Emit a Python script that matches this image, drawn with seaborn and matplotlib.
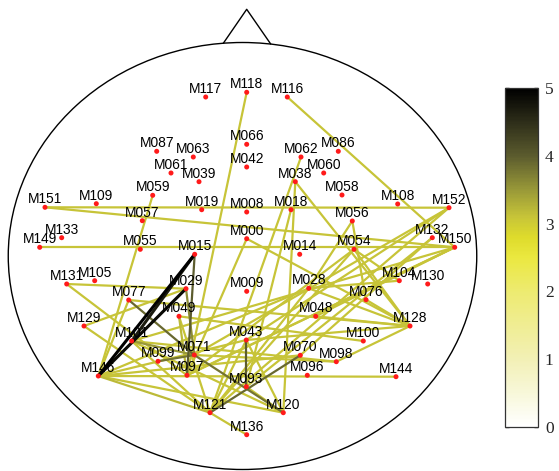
import numpy as np
import pandas as pd
import matplotlib
matplotlib.use("Agg")
import matplotlib.pyplot as plt
import seaborn as sns
from matplotlib.collections import LineCollection
from matplotlib.colors import LinearSegmentedColormap, Normalize
from matplotlib.cm import ScalarMappable
from matplotlib.patches import Ellipse

# ---------------- data ----------------
sensor_names = ["M117", "M118", "M116", "M066", "M042", "M087", "M063", "M061", "M039",
                "M062", "M086", "M060", "M038", "M059", "M058", "M109", "M108", "M151",
                "M152", "M019", "M008", "M018", "M057", "M056", "M133", "M132", "M149",
                "M150", "M055", "M054", "M000", "M015", "M014", "M131", "M130", "M105",
                "M104", "M029", "M028", "M009", "M077", "M076", "M129", "M128", "M049",
                "M048", "M101", "M100", "M043", "M071", "M070", "M099", "M098", "M146",
                "M144", "M097", "M096", "M093", "M121", "M120", "M136"]
sensor_x = [205.7, 246.7, 287.3, 246.7, 246.7, 156.7, 193.3, 171.0, 199.0,
            301.0, 338.3, 323.7, 295.3, 152.7, 342.0, 96.3, 397.7, 45.0,
            449.0, 201.7, 246.7, 291.0, 142.3, 352.3, 61.7, 432.3, 39.7,
            454.7, 140.3, 354.0, 246.7, 194.7, 299.7, 66.7, 427.7, 94.7,
            399.3, 186.0, 308.7, 246.7, 128.7, 366.0, 84.0, 410.0, 179.0,
            315.7, 131.7, 363.3, 246.3, 194.3, 300.3, 158.0, 336.3, 98.3,
            396.0, 187.0, 307.3, 246.3, 210.0, 283.3, 246.7]
sensor_y = [97.0, 92.3, 97.0, 144.3, 167.0, 151.3, 157.0, 173.0, 181.7,
            157.0, 151.3, 173.0, 181.7, 195.3, 195.0, 203.7, 204.0, 207.3,
            207.7, 209.7, 212.0, 209.7, 220.7, 221.0, 237.7, 237.7, 247.3,
            247.3, 249.3, 249.3, 238.7, 254.3, 254.3, 284.0, 284.0, 280.7,
            280.7, 288.7, 288.3, 291.3, 300.0, 299.7, 326.0, 326.0, 316.3,
            316.3, 341.0, 341.0, 340.0, 355.0, 355.3, 361.3, 361.7, 376.0,
            376.7, 375.3, 375.3, 386.7, 412.7, 412.7, 434.7]

edge_from = ["M146", "M146", "M015",
             "M015", "M077", "M099", "M043", "M121", "M071", "M029", "M101",
             "M151", "M151", "M149", "M116", "M118", "M059", "M062", "M038", "M038",
             "M018", "M146", "M146", "M146", "M146", "M146", "M146", "M146",
             "M131", "M129", "M129", "M077", "M049", "M049", "M049", "M101",
             "M101", "M101", "M071", "M097", "M097", "M043", "M043", "M043",
             "M000", "M000", "M028", "M028", "M028", "M048", "M056", "M056",
             "M054", "M054", "M076", "M132", "M132", "M152", "M152", "M150",
             "M150", "M098", "M121", "M120", "M071", "M131", "M054", "M150"]
edge_to = ["M015", "M029", "M101",
           "M097", "M071", "M071", "M093", "M070", "M120", "M071", "M071",
           "M152", "M150", "M150", "M150", "M097", "M146", "M121", "M120", "M128",
           "M093", "M144", "M121", "M120", "M077", "M043", "M070", "M028",
           "M097", "M029", "M121", "M128", "M097", "M121", "M100", "M098",
           "M120", "M121", "M152", "M150", "M054", "M121", "M120", "M128",
           "M128", "M097", "M128", "M121", "M104", "M128", "M028", "M076",
           "M104", "M121", "M128", "M070", "M093", "M121", "M043", "M048",
           "M101", "M128", "M136", "M093", "M098", "M029", "M128", "M097"]
edge_value = [5.0, 4.9, 4.7,
              4.0, 3.9, 3.8, 4.0, 3.9, 3.8, 3.6, 3.5,
              3.1, 3.1, 3.1, 3.1, 3.1, 3.1, 3.1, 3.1, 3.1,
              3.1, 3.1, 3.2, 3.1, 3.1, 3.1, 3.1, 3.1,
              3.1, 3.1, 3.1, 3.1, 3.2, 3.1, 3.1, 3.1,
              3.1, 3.1, 3.1, 3.1, 3.1, 3.1, 3.1, 3.1,
              3.1, 3.1, 3.1, 3.1, 3.1, 3.1, 3.1, 3.1,
              3.1, 3.1, 3.1, 3.1, 3.1, 3.1, 3.1, 3.1,
              3.1, 3.1, 3.1, 3.1, 3.1, 3.1, 3.1, 3.1]

cbar_ticks = [0, 1, 2, 3, 4, 5]
cbar_labels = ["0", "1", "2", "3", "4", "5"]

# ---------------- styling ----------------
sns.set_style("white")
plt.rcParams["font.family"] = ["Liberation Sans", "DejaVu Sans"]

sensors = pd.DataFrame({"name": sensor_names, "x": sensor_x, "y": sensor_y})
pos = {n: (x, y) for n, x, y in zip(sensor_names, sensor_x, sensor_y)}

cmap = LinearSegmentedColormap.from_list("wyk", [
    (0.00, (1.00, 1.00, 1.00)),
    (0.10, (0.97, 0.97, 0.85)),
    (0.20, (0.95, 0.94, 0.71)),
    (0.40, (0.93, 0.92, 0.44)),
    (0.50, (0.92, 0.91, 0.25)),
    (0.56, (0.87, 0.86, 0.17)),
    (0.62, (0.78, 0.77, 0.22)),
    (0.70, (0.60, 0.60, 0.22)),
    (0.80, (0.36, 0.36, 0.18)),
    (0.90, (0.18, 0.18, 0.10)),
    (1.00, (0.00, 0.00, 0.00)),
])
norm = Normalize(vmin=0, vmax=5)

fig = plt.figure(figsize=(5.59, 4.71), dpi=100)
ax = fig.add_axes([0, 0, 1, 1])

# head outline and nose
ax.add_patch(Ellipse((242.5, 256), 468.5, 427, fill=False, edgecolor="black", lw=1.0, zorder=1))
ax.plot([223.3, 246.7, 270.7], [43.3, 9.3, 44.0], color="black", lw=1.0, zorder=1)

# connections, drawn from low to high value
edges = pd.DataFrame({"a": edge_from, "b": edge_to, "v": edge_value}).sort_values("v")
segs = [[pos[a], pos[b]] for a, b in zip(edges["a"], edges["b"])]
widths = [2.2 if v >= 4.5 else 1.6 for v in edges["v"]]
lc = LineCollection(segs, cmap=cmap, norm=norm, linewidths=widths, zorder=2)
lc.set_array(edges["v"].to_numpy())
ax.add_collection(lc)

# sensors
sns.scatterplot(data=sensors, x="x", y="y", ax=ax, color="#ff1a1a", s=13,
                edgecolor="none", zorder=3, legend=False)
ax.set_xlim(0, 559)
ax.set_ylim(471, 0)
ax.axis("off")
for n, x, y in zip(sensor_names, sensor_x, sensor_y):
    ax.text(x, y - 4, n, ha="center", va="baseline", fontsize=9.9,
            color="black", zorder=4)

# colorbar
cax = fig.add_axes([505 / 559, 1 - 427 / 471, 33 / 559, 339 / 471])
sm = ScalarMappable(norm=norm, cmap=cmap)
cb = fig.colorbar(sm, cax=cax, ticks=cbar_ticks)
cb.outline.set_linewidth(0.9)
cb.outline.set_edgecolor("#333333")
cax.set_yticks(cbar_ticks)
cax.set_yticklabels(cbar_labels, fontfamily="Liberation Serif", fontsize=12.5)
cax.tick_params(direction="in", left=True, right=True, length=3, width=1, pad=5)

fig.savefig("out.png", dpi=100)
